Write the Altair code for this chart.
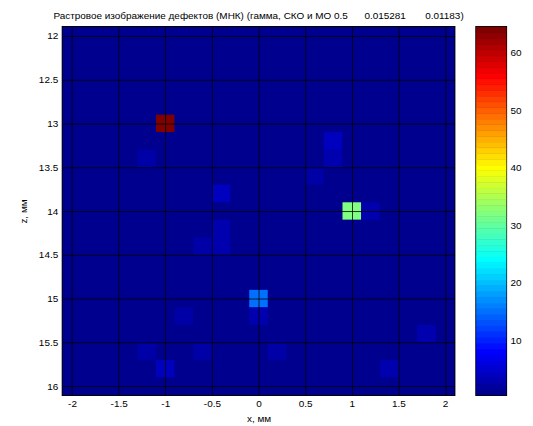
import altair as alt
import pandas as pd

# cell centres of the raster (mm)
x_centers = [-2.0, -1.8, -1.6, -1.4, -1.2, -1.0, -0.8, -0.6, -0.4, -0.2, 0.0,
             0.2, 0.4, 0.6, 0.8, 1.0, 1.2, 1.4, 1.6, 1.8, 2.0]
z_centers = [12.0, 12.2, 12.4, 12.6, 12.8, 13.0, 13.2, 13.4, 13.6, 13.8, 14.0,
             14.2, 14.4, 14.6, 14.8, 15.0, 15.2, 15.4, 15.6, 15.8, 16.0]
background_value = 1.0

# cells that differ from the background
spot_x = [-1.0, 1.0, 0.0, 0.8, 0.8, 0.6, 1.2, -1.2, -0.4, -0.4, -0.4, -0.6,
          0.0, -0.8, -1.2, -0.6, -1.0, 0.2, 1.8, 1.4]
spot_z = [13.0, 14.0, 15.0, 13.2, 13.4, 13.6, 14.0, 13.4, 13.8, 14.2, 14.4, 14.4,
          15.2, 15.2, 15.6, 15.6, 15.8, 15.6, 15.4, 15.8]
spot_v = [64, 32, 15, 4, 3, 2.5, 3, 2.5, 4, 3, 3, 2.5,
          3, 2.5, 2.5, 2.5, 4, 2.5, 3, 3]

x_ticks = [-2, -1.5, -1, -0.5, 0, 0.5, 1, 1.5, 2]
z_ticks = [12, 12.5, 13, 13.5, 14, 14.5, 15, 15.5, 16]
cb_ticks = [10, 20, 30, 40, 50, 60]
cb_levels = list(range(1, 65))

title_text = ("Растровое изображение дефектов (МНК) (гамма, СКО и МО 0.5"
              + "\u00a0" * 6 + "0.015281" + "\u00a0" * 7 + "0.01183)")

# jet colormap stops
jet_domain = [1, 8, 24, 40, 56, 64]
jet_range = ["#00008F", "#0000FF", "#00FFFF", "#FFFF00", "#FF0000", "#800000"]

spots = {(round(x, 1), round(z, 1)): v for x, z, v in zip(spot_x, spot_z, spot_v)}
rows = []
for xc in x_centers:
    for zc in z_centers:
        v = spots.get((round(xc, 1), round(zc, 1)), background_value)
        rows.append({"x0": xc - 0.1, "x1": xc + 0.1, "z0": zc - 0.1, "z1": zc + 0.1, "v": v})
df = pd.DataFrame(rows)

cb_df = pd.DataFrame({"k": cb_levels})
cb_df["lo"] = cb_df["k"] - 0.5
cb_df["hi"] = cb_df["k"] + 0.5

cscale = alt.Scale(domain=jet_domain, range=jet_range, interpolate="rgb", clamp=True)

font = "Liberation Sans"

heat = alt.Chart(df).mark_rect().encode(
    x=alt.X("x0:Q", scale=alt.Scale(domain=[-2.1, 2.1], nice=False, zero=False),
            axis=alt.Axis(values=x_ticks, labelExpr="toString(datum.value)",
                          title="x, мм", titlePadding=5, labelPadding=4,
                          grid=True, zindex=2)),
    x2="x1:Q",
    y=alt.Y("z0:Q", scale=alt.Scale(domain=[11.9, 16.1], nice=False, zero=False, reverse=True),
            axis=alt.Axis(values=z_ticks, labelExpr="toString(datum.value)",
                          title="z, мм", titlePadding=10, labelPadding=5,
                          grid=True, zindex=2)),
    y2="z1:Q",
    color=alt.Color("v:Q", scale=cscale, legend=None),
).properties(
    width=394, height=370,
    title=alt.TitleParams(title_text, font=font, fontSize=10, fontWeight="normal",
                          color="black", offset=6, anchor="middle"),
)

cb = alt.Chart(cb_df).mark_rect(strokeWidth=0.6).encode(
    y=alt.Y("lo:Q", scale=alt.Scale(domain=[0.5, 64.5], nice=False, zero=False),
            axis=alt.Axis(orient="right", values=cb_ticks, grid=False, title=None,
                          labelPadding=4, ticks=False, domain=False)),
    y2="hi:Q",
    color=alt.Color("k:Q", scale=cscale, legend=None),
    stroke=alt.Stroke("k:Q", scale=cscale, legend=None),
).properties(width=30, height=370)

chart = alt.hconcat(heat, cb, spacing=22, bounds="flush").properties(
    padding={"left": 9, "top": 1, "right": 2, "bottom": 0},
    background="white",
).configure_view(
    stroke="black", strokeWidth=2, fill="#00008F"
).configure_axis(
    domain=False, ticks=False, gridColor="black", gridOpacity=0.8,
    gridWidth=1,
    labelFont=font, labelFontSize=10, labelColor="black",
    titleFont=font, titleFontSize=10, titleFontWeight="normal", titleColor="black",
)

chart.save("out.html", embed_options={"renderer": "svg", "actions": False})
